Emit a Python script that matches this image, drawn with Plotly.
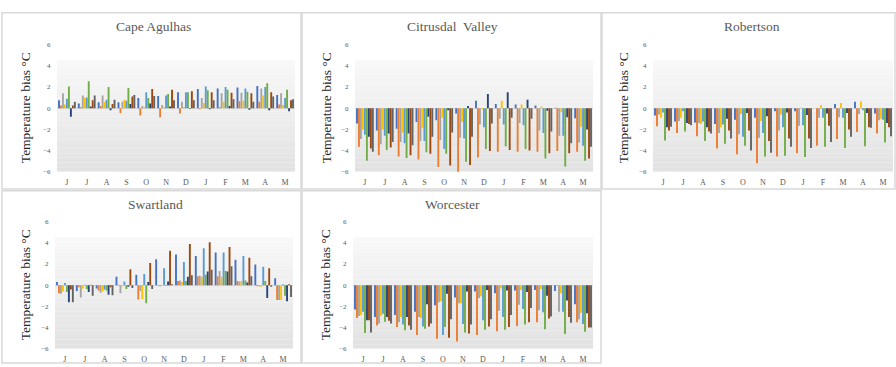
import plotly.graph_objects as go

W, H = 896, 367

months = ["J", "J", "A", "S", "O", "N", "D", "J", "F", "M", "A", "M"]
series_colors = ["#4472C4", "#ED7D31", "#A5A5A5", "#FFC000", "#5B9BD5",
                 "#70AD47", "#264478", "#9E480E", "#636363"]

# values per month (rows), 9 series per month (columns)
cape_agulhas = [
    [0.75, 0.25, 1.4, 0.35, 0.9, 2.05, -0.8, 0.25, 0.6],
    [0.45, 0.1, 1.2, 1.0, 1.0, 2.55, 0.15, 0.75, 1.2],
    [0.55, 0.2, 1.2, 0.6, 0.8, 2.0, -0.2, 0.4, 0.8],
    [0.55, -0.45, 0.6, 0.8, 0.7, 1.9, 0.4, 1.1, 1.25],
    [0.95, -0.7, 0.2, 0.1, 1.5, 0.95, 0.45, 1.8, 1.15],
    [1.15, -0.85, 0.3, 0.1, 1.2, 1.35, 0.15, 1.75, 0.75],
    [1.5, -0.5, 0.6, 0.1, 1.5, 1.5, -0.05, 1.6, 0.75],
    [1.8, -0.1, 0.95, 0.5, 2.05, 1.7, -0.1, 1.5, 0.75],
    [1.85, 0.1, 1.4, 0.6, 2.0, 1.75, 0.2, 1.45, 0.85],
    [1.95, 0.65, 1.45, 0.7, 1.85, 1.55, -0.15, 1.4, 0.6],
    [2.1, 0.6, 1.85, 1.2, 2.0, 2.35, -0.2, 1.5, 1.1],
    [1.25, 0.35, 1.4, 0.3, 0.95, 1.75, -0.3, 0.75, 0.85],
]
citrusdal_valley = [
    [-1.45, -3.65, -2.9, -2.0, -2.5, -4.95, -2.7, -3.8, -4.1],
    [-2.1, -4.45, -3.4, -2.0, -2.6, -3.95, -2.4, -3.7, -3.2],
    [-1.95, -4.55, -3.2, -2.3, -3.3, -4.7, -2.4, -4.45, -3.5],
    [-1.3, -4.85, -3.1, -1.9, -3.1, -4.15, -0.8, -4.3, -2.7],
    [-1.15, -5.55, -3.0, -0.9, -3.85, -4.3, -0.2, -5.4, -2.3],
    [-0.5, -6.05, -2.8, -1.3, -2.85, -5.05, 0.2, -5.35, -2.7],
    [0.7, -4.65, -1.55, -0.1, -1.8, -3.85, 1.35, -4.05, -1.45],
    [0.4, -4.1, -1.0, 0.7, -1.55, -3.6, 1.5, -3.95, -0.9],
    [0.35, -4.1, -1.4, 0.35, -1.6, -3.85, 0.8, -4.0, -1.0],
    [0.25, -4.1, -2.1, 0.15, -2.35, -4.75, -0.25, -4.25, -2.2],
    [0.05, -4.05, -2.6, -0.35, -2.6, -5.5, -0.85, -4.25, -3.3],
    [-0.95, -4.1, -3.25, -1.75, -3.55, -4.95, -2.0, -4.75, -3.65],
]
robertson = [
    [-0.7, -1.7, -0.6, -0.9, -0.4, -3.05, -1.8, -2.1, -1.75],
    [-1.25, -2.35, -1.2, -0.9, -0.3, -2.2, -1.4, -1.5, -1.6],
    [-1.35, -2.65, -1.4, -1.5, -1.25, -3.1, -1.8, -2.2, -2.4],
    [-1.5, -3.8, -2.35, -1.8, -1.55, -3.35, -1.0, -2.1, -2.85],
    [-1.1, -4.35, -2.45, -0.55, -2.7, -3.55, -0.45, -2.1, -4.0],
    [-0.9, -5.2, -2.8, -1.2, -2.35, -4.55, -0.75, -3.1, -4.2],
    [-0.3, -4.55, -2.1, -0.6, -1.8, -4.5, -0.4, -2.85, -3.65],
    [-0.3, -4.25, -1.65, 0.05, -1.6, -4.6, -0.65, -2.85, -3.75],
    [0.0, -3.55, -0.9, 0.3, -0.9, -3.65, -0.5, -1.65, -3.2],
    [0.4, -2.9, -0.85, 0.5, -0.9, -3.75, -0.45, -2.0, -2.7],
    [0.6, -2.25, -0.55, 0.65, -0.2, -3.6, -0.45, -1.8, -1.85],
    [-0.5, -2.4, -1.15, -1.0, -1.1, -3.25, -1.4, -1.8, -2.65],
]
swartland = [
    [0.3, -0.75, -0.8, -0.6, 0.2, -0.65, -1.6, -0.4, -1.6],
    [-0.55, -0.2, -1.15, -0.3, 0.05, -0.35, -0.65, 0.05, -1.0],
    [-0.3, -0.5, -0.7, -0.6, -0.4, -0.5, -0.9, -0.2, -0.95],
    [0.8, 0.05, -0.75, -0.1, 0.35, -0.35, -0.15, 1.5, -0.25],
    [1.0, -1.35, -0.55, -1.3, 1.05, -1.7, 0.3, 2.1, -0.35],
    [2.45, -0.05, -0.1, -0.05, 1.6, -0.05, 0.35, 3.25, 0.1],
    [2.9, 0.4, 0.45, 0.3, 2.2, 0.4, 0.8, 3.9, 0.95],
    [2.75, 0.85, 0.9, 0.8, 3.5, 1.0, 1.3, 4.05, 1.45],
    [3.1, 0.85, 1.35, 0.8, 3.1, 1.35, 1.3, 3.6, 1.8],
    [2.4, 0.4, 0.35, 0.4, 2.75, 0.45, 0.25, 2.6, 0.85],
    [1.95, -0.1, -0.1, -0.15, 1.75, 0.4, -1.2, 1.6, -0.15],
    [0.65, -1.4, -1.4, -1.4, 0.1, -1.0, -1.5, 0.1, -1.1],
]
worcester = [
    [-2.3, -3.1, -2.9, -2.8, -2.5, -4.5, -3.3, -3.3, -4.45],
    [-3.0, -3.8, -3.6, -2.9, -2.7, -3.45, -3.0, -3.35, -3.6],
    [-2.8, -3.95, -3.5, -3.0, -3.7, -4.25, -3.0, -3.8, -4.2],
    [-2.5, -4.7, -3.0, -3.1, -3.9, -4.1, -1.8, -3.9, -3.6],
    [-1.9, -5.05, -1.6, -1.5, -4.7, -3.95, -0.8, -4.95, -3.2],
    [-1.15, -5.3, -1.7, -1.7, -3.65, -4.45, -0.6, -4.55, -3.7],
    [-0.6, -4.7, -1.2, -1.05, -3.3, -4.2, -0.45, -3.9, -3.2],
    [-0.75, -4.35, -2.4, -0.3, -3.0, -4.2, -0.5, -3.95, -2.8],
    [-0.5, -3.85, -1.85, -0.45, -2.25, -3.7, -0.65, -3.5, -2.15],
    [-0.45, -3.5, -2.35, -0.35, -2.55, -4.15, -1.0, -3.15, -2.95],
    [-0.55, -0.05, -2.5, -0.75, -2.5, -4.6, -1.45, -3.0, -3.55],
    [-1.8, -3.5, -3.2, -2.6, -3.65, -4.4, -2.65, -4.0, -4.0],
]

panels = [
    ("Cape Agulhas", cape_agulhas),
    ("Citrusdal  Valley", citrusdal_valley),
    ("Robertson", robertson),
    ("Swartland", swartland),
    ("Worcester", worcester),
]

# layout geometry in pixels
# (plot x0, plot x1, y of +6, y of -6, title x, title y, axis-title x)
geom = [
    (57, 295, 41.5, 171.5, 153, 23, 25),
    (355, 593, 41.5, 171.5, 453, 23, 326),
    (653, 893, 41.5, 171.5, 752, 23, 623),
    (55, 293, 222.5, 352.5, 155, 205, 25),
    (353, 593, 222.5, 352.5, 453, 205, 325),
]
frames = [(2, 9, 301, 189), (302, 9, 601, 189), (602, 9, 895, 189),
          (2, 191, 301, 367), (302, 191, 601, 367)]

px = lambda x: x / W
py = lambda y: 1 - y / H

fig = go.Figure()
shapes = []
annotations = []
serif = "Liberation Serif, Times New Roman, serif"

for i, ((title, data), g) in enumerate(zip(panels, geom)):
    n = i + 1
    xa = "x" if n == 1 else f"x{n}"
    ya = "y" if n == 1 else f"y{n}"
    for s in range(9):
        fig.add_trace(go.Bar(
            x=list(range(12)), y=[row[s] for row in data],
            marker=dict(color=series_colors[s], line=dict(width=0)),
            xaxis=xa, yaxis=ya, showlegend=False,
        ))
    x0, x1, ytop, ybot, tx, ty, ax = g
    xkey = "xaxis" if n == 1 else f"xaxis{n}"
    ykey = "yaxis" if n == 1 else f"yaxis{n}"
    fig.update_layout({
        xkey: dict(domain=[px(x0), px(x1)], anchor=ya, range=[-0.5, 11.5],
                   tickvals=list(range(12)), ticktext=months, showgrid=False,
                   zeroline=False, showline=False, ticks="outside", ticklen=3,
                   tickcolor="rgba(0,0,0,0)",
                   tickfont=dict(family=serif, size=8, color="#595959")),
        ykey: dict(domain=[py(ybot), py(ytop)], anchor=xa, range=[-6, 6],
                   tickvals=[-6, -4, -2, 0, 2, 4, 6], showgrid=False,
                   zeroline=True, zerolinecolor="#d9d9d9", zerolinewidth=1,
                   showline=False, ticks="outside", ticklen=4,
                   tickcolor="rgba(0,0,0,0)",
                   tickfont=dict(family=serif, size=7, color="#595959")),
    })
    # gradient plot-area background
    nb = 24
    top_v, bot_v = 4.5, -6.0
    for b in range(nb):
        v0 = top_v - (top_v - bot_v) * b / nb
        v1 = top_v - (top_v - bot_v) * (b + 1) / nb
        t = (b + 0.5) / nb
        c = int(round(248 - (248 - 226) * t))
        shapes.append(dict(type="rect", xref=f"{xa} domain", yref=ya,
                           x0=0, x1=1, y0=v1, y1=v0, layer="below",
                           line=dict(width=0),
                           fillcolor=f"rgb({c},{c},{c})"))
    annotations.append(dict(text=title, x=px(tx), y=py(ty), xref="paper",
                            yref="paper", showarrow=False, xanchor="center",
                            yanchor="middle",
                            font=dict(family=serif, size=13.5, color="#595959")))
    annotations.append(dict(text="Temperature bias °C", x=px(ax),
                            y=py((ytop + ybot) / 2), xref="paper",
                            yref="paper", showarrow=False, textangle=-90,
                            xanchor="center", yanchor="middle",
                            font=dict(family=serif, size=13.5, color="#262626")))

for (fx0, fy0, fx1, fy1) in frames:
    shapes.append(dict(type="rect", xref="paper", yref="paper",
                       x0=px(fx0), x1=px(fx1), y0=py(fy1), y1=py(fy0),
                       line=dict(color="#d9d9d9", width=1.5), layer="below"))

fig.update_layout(
    width=W, height=H, margin=dict(l=0, r=0, t=0, b=0),
    paper_bgcolor="white", plot_bgcolor="rgba(0,0,0,0)",
    barmode="group", bargap=0.1, bargroupgap=0.05,
    shapes=shapes, annotations=annotations, showlegend=False,
    hovermode=False,
)

fig.write_html(
    "out.html",
    config={"staticPlot": True, "displayModeBar": False},
    post_script=(
        "document.documentElement.style.margin='0';"
        "document.body.style.margin='0';document.body.style.padding='0';"
        "document.body.style.overflow='hidden';"
        "var d=document.getElementById('{plot_id}');"
        "if(d&&d.parentElement){d.parentElement.style.margin='0';"
        "d.parentElement.style.padding='0';}"
    ),
)
